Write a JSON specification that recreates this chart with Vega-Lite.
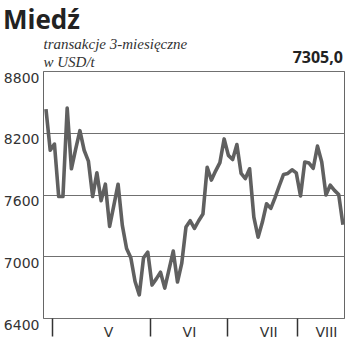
{
  "$schema": "https://vega.github.io/schema/vega-lite/v6.json",
  "width": 301,
  "height": 247,
  "autosize": {"type": "none"},
  "padding": {"left": 43, "top": 71, "right": 6, "bottom": 34},
  "background": "white",
  "title": {
    "text": "Miedź",
    "anchor": "start",
    "frame": "group",
    "dx": -40,
    "font": "Open Sans",
    "fontSize": 26,
    "fontWeight": "bold",
    "color": "#222222",
    "offset": 2
  },
  "config": {
    "locale": {"number": {"decimal": ",", "thousands": "", "grouping": [3], "currency": ["", " zł"]}},
    "view": {"stroke": "#666666", "strokeWidth": 1},
    "axis": {"labelFont": "DejaVu Sans", "labelColor": "#333333", "labelFontSize": 14}
  },
  "data": {
    "values": [
      {"s": 0, "v": 8430}, {"s": 1, "v": 8030}, {"s": 2, "v": 8090}, {"s": 3, "v": 7580},
      {"s": 4, "v": 7580}, {"s": 5, "v": 8440}, {"s": 6, "v": 7850}, {"s": 7, "v": 8040},
      {"s": 8, "v": 8220}, {"s": 9, "v": 8030}, {"s": 10, "v": 7925}, {"s": 11, "v": 7580},
      {"s": 12, "v": 7810}, {"s": 13, "v": 7540}, {"s": 14, "v": 7700}, {"s": 15, "v": 7290},
      {"s": 16, "v": 7495}, {"s": 17, "v": 7700}, {"s": 18, "v": 7300}, {"s": 19, "v": 7075},
      {"s": 20, "v": 6985}, {"s": 21, "v": 6755}, {"s": 22, "v": 6625}, {"s": 23, "v": 6985},
      {"s": 24, "v": 7040}, {"s": 25, "v": 6720}, {"s": 26, "v": 6780}, {"s": 27, "v": 6845},
      {"s": 28, "v": 6690}, {"s": 29, "v": 6870}, {"s": 30, "v": 7050}, {"s": 31, "v": 6750},
      {"s": 32, "v": 6930}, {"s": 33, "v": 7285}, {"s": 34, "v": 7345}, {"s": 35, "v": 7270},
      {"s": 36, "v": 7345}, {"s": 37, "v": 7410}, {"s": 38, "v": 7865}, {"s": 39, "v": 7740},
      {"s": 40, "v": 7830}, {"s": 41, "v": 7910}, {"s": 42, "v": 8140}, {"s": 43, "v": 7980},
      {"s": 44, "v": 7940}, {"s": 45, "v": 8085}, {"s": 46, "v": 7805}, {"s": 47, "v": 7755},
      {"s": 48, "v": 7850}, {"s": 49, "v": 7380}, {"s": 50, "v": 7185}, {"s": 51, "v": 7330},
      {"s": 52, "v": 7510}, {"s": 53, "v": 7465}, {"s": 54, "v": 7570}, {"s": 55, "v": 7685},
      {"s": 56, "v": 7795}, {"s": 57, "v": 7805}, {"s": 58, "v": 7840}, {"s": 59, "v": 7810},
      {"s": 60, "v": 7585}, {"s": 61, "v": 7915}, {"s": 62, "v": 7905}, {"s": 63, "v": 7855},
      {"s": 64, "v": 8070}, {"s": 65, "v": 7915}, {"s": 66, "v": 7595}, {"s": 67, "v": 7690},
      {"s": 68, "v": 7640}, {"s": 69, "v": 7600}, {"s": 70, "v": 7305}
    ]
  },
  "encoding": {
    "x": {
      "field": "s",
      "type": "quantitative",
      "scale": {"domain": [-0.7, 70.25], "nice": false, "zero": false},
      "axis": {
        "title": null,
        "grid": false,
        "domain": false,
        "values": [1.4, 14.6, 24.5, 33.7, 42.7, 52.4, 59.2, 66],
        "labelExpr": "datum.value == 14.6 ? 'V' : datum.value == 33.7 ? 'VI' : datum.value == 52.4 ? 'VII' : datum.value == 66 ? 'VIII' : ''",
        "tickSize": 18,
        "tickWidth": 1.5,
        "tickColor": "#333333",
        "tickOpacity": {"condition": {"test": "indexof([14.6, 33.7, 52.4, 66], datum.value) >= 0", "value": 0}, "value": 1},
        "labelPadding": -11,
        "labelBaseline": "top",
        "labelFlush": false,
        "labelOverlap": false
      }
    },
    "y": {
      "field": "v",
      "type": "quantitative",
      "scale": {"domain": [6400, 8800], "nice": false, "zero": false},
      "axis": {
        "title": ["transakcje 3-miesięczne", "w USD/t"],
        "titleFont": "Liberation Serif",
        "titleFontStyle": "italic",
        "titleFontWeight": "normal",
        "titleFontSize": 15,
        "titleColor": "#333333",
        "titleAngle": 0,
        "titleAlign": "left",
        "titleBaseline": "alphabetic",
        "titleX": 0,
        "titleY": -23,
        "titleLineHeight": 18,
        "values": [6400, 7000, 7600, 8200, 8800],
        "format": "d",
        "grid": true,
        "gridColor": "#707070",
        "gridWidth": 1,
        "ticks": false,
        "domain": false,
        "labelBaseline": "top",
        "labelPadding": 4
      }
    }
  },
  "layer": [
    {
      "mark": {"type": "line", "color": "#606060", "strokeWidth": 3.6, "strokeJoin": "round"}
    },
    {
      "transform": [{"filter": "datum.s == 70"}],
      "mark": {"type": "text", "align": "right", "baseline": "alphabetic", "dy": -8, "font": "Open Sans", "fontSize": 16, "fontWeight": "bold", "color": "#222222"},
      "encoding": {
        "y": {"datum": 8800},
        "text": {"field": "v", "type": "quantitative", "format": ".1f"}
      }
    }
  ]
}
